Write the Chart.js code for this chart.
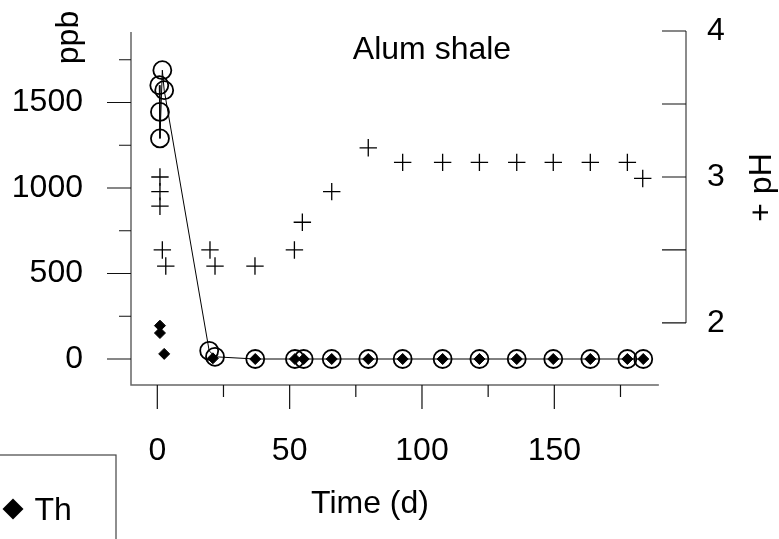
<!DOCTYPE html>
<html lang="en">
<head>
  <meta charset="UTF-8" />
  <title>Alum shale</title>
  <script src="https://cdn.jsdelivr.net/npm/chart.js"></script>
  <style>
    body {
      margin: 0;
      background: #fff;
    }

    .wrap {
      width: 779px;
      height: 539px;
      position: relative;
    }
  </style>
</head>
<body>
  <div class="wrap"><canvas id="alumChart"></canvas></div>

  <script>
    // values (time in days)
    const circleDays = [0.75, 1.0, 1.0, 1.9, 2.6, 19.6, 21.8, 37, 52, 55.3, 65.9, 79.7, 92.7, 107.8, 121.7, 135.8, 149.6, 163.6, 177.6, 183.6];
    const circlePpb = [1601, 1445, 1290, 1689, 1572, 48, 13, 0, 0, 0, 0, 0, 0, 0, 0, 0, 0, 0, 0, 0];

    const thDays = [1.0, 1.0, 2.6, 21.0, 37, 52, 55.3, 65.9, 79.7, 92.7, 107.8, 121.7, 135.8, 149.6, 163.6, 177.6, 183.6];
    const thPpb = [195, 152, 30, 4, 0, 0, 0, 0, 0, 0, 0, 0, 0, 0, 0, 0, 0];

    const phDays = [1.0, 1.0, 1.0, 1.9, 3.2, 19.9, 21.8, 36.9, 51.8, 54.8, 65.9, 79.7, 92.7, 107.8, 121.7, 135.8, 149.6, 163.6, 177.6, 183.4];
    const phValues = [3.0, 2.9, 2.8, 2.5, 2.39, 2.5, 2.39, 2.39, 2.5, 2.69, 2.9, 3.2, 3.1, 3.1, 3.1, 3.1, 3.1, 3.1, 3.1, 2.99];

    const xMajorTicks = [0, 50, 100, 150];
    const xMinorTicks = [25, 75, 125, 175];
    const ppbMajorTicks = [0, 500, 1000, 1500];
    const ppbMinorTicks = [250, 750, 1250, 1750];
    const phLabelTicks = [2, 3, 4];
    const phTickMarks = [2, 2.5, 3, 3.5, 4];

    const FONT = 'Liberation Sans, Arial, sans-serif';
    const X_AXIS_END = 189.5;

    const toPoints = (xs, ys) => xs.map((x, i) => ({ x: x, y: ys[i] }));
    const useTicks = values => scale => {
      scale.ticks = values.map(v => ({ value: v }));
    };
    // fixed box sizes, no extra label padding, so the plot sits where the figure has it
    const fixSize = (w, h) => scale => {
      if (w) scale.width = w;
      if (h) scale.height = h;
      scale.paddingTop = 0;
      scale.paddingBottom = 0;
      scale.paddingLeft = 0;
      scale.paddingRight = 0;
    };

    // axis lines, tick marks, titles and legend drawn the old-style way
    const framePlugin = {
      id: 'frame',
      afterDraw(chart) {
        const ctx = chart.ctx;
        const area = chart.chartArea;
        const xs = chart.scales.x;
        const ys = chart.scales.y;
        const ph = chart.scales.y2;
        ctx.save();

        ctx.strokeStyle = '#666';
        ctx.lineWidth = 1.5;
        ctx.beginPath();
        ctx.moveTo(area.left, area.top + 1);
        ctx.lineTo(area.left, area.bottom);
        ctx.lineTo(xs.getPixelForValue(X_AXIS_END), area.bottom);
        ctx.moveTo(area.right, ph.getPixelForValue(4));
        ctx.lineTo(area.right, ph.getPixelForValue(2));
        ctx.stroke();

        ctx.strokeStyle = '#111';
        ctx.lineWidth = 1.2;
        ctx.beginPath();
        const seg = (x0, y0, x1, y1) => { ctx.moveTo(x0, y0); ctx.lineTo(x1, y1); };
        xMajorTicks.forEach(v => { const p = xs.getPixelForValue(v); seg(p, area.bottom, p, area.bottom + 24); });
        xMinorTicks.forEach(v => { const p = xs.getPixelForValue(v); seg(p, area.bottom, p, area.bottom + 12); });
        ppbMajorTicks.forEach(v => { const p = ys.getPixelForValue(v); seg(area.left - 24, p, area.left, p); });
        ppbMinorTicks.forEach(v => { const p = ys.getPixelForValue(v); seg(area.left - 12, p, area.left, p); });
        phTickMarks.forEach(v => { const p = ph.getPixelForValue(v); seg(area.right - 24, p, area.right, p); });
        ctx.stroke();

        ctx.fillStyle = '#000';
        ctx.font = '32px ' + FONT;
        ctx.textAlign = 'center';
        ctx.textBaseline = 'alphabetic';
        ctx.fillText('Alum shale', 432, 59);
        ctx.fillText('Time (d)', 370, 513);

        ctx.save();
        ctx.translate(78, 37.5);
        ctx.rotate(-Math.PI / 2);
        ctx.fillText('ppb', 0, 0);
        ctx.restore();

        ctx.save();
        ctx.translate(771, 187.5);
        ctx.rotate(-Math.PI / 2);
        ctx.fillText('+ pH', 0, 0);
        ctx.restore();

        // legend box (cut off at the page edge)
        ctx.strokeStyle = '#444';
        ctx.lineWidth = 1.2;
        ctx.strokeRect(-10, 455, 126, 120);
        ctx.beginPath();
        ctx.moveTo(13, 498.5);
        ctx.lineTo(23.5, 509);
        ctx.lineTo(13, 519.5);
        ctx.lineTo(2.5, 509);
        ctx.closePath();
        ctx.fill();
        ctx.textAlign = 'left';
        ctx.fillText('Th', 34.5, 520);

        ctx.restore();
      }
    };

    const tickFont = { family: FONT, size: 32 };
    const plainLabel = v => String(v);

    new Chart(document.getElementById('alumChart'), {
      type: 'scatter',
      data: {
        datasets: [
          {
            label: 'ppb',
            data: toPoints(circleDays, circlePpb),
            yAxisID: 'y',
            showLine: true,
            borderColor: '#000',
            borderWidth: 1,
            pointStyle: 'circle',
            pointRadius: 9,
            pointBorderWidth: 1.8,
            pointBorderColor: '#000',
            pointBackgroundColor: 'rgba(0,0,0,0)'
          },
          {
            label: 'Th',
            data: toPoints(thDays, thPpb),
            yAxisID: 'y',
            pointStyle: 'rectRot',
            pointRadius: 5.5,
            pointBorderWidth: 1,
            pointBorderColor: '#000',
            pointBackgroundColor: '#000'
          },
          {
            label: 'pH',
            data: toPoints(phDays, phValues),
            yAxisID: 'y2',
            pointStyle: 'cross',
            pointRadius: 8.7,
            pointBorderWidth: 1.3,
            pointBorderColor: '#000'
          }
        ]
      },
      plugins: [framePlugin],
      options: {
        responsive: true,
        maintainAspectRatio: false,
        animation: false,
        layout: { padding: { top: 31, left: 0, right: 0, bottom: 0 } },
        plugins: {
          legend: { display: false },
          tooltip: { enabled: false }
        },
        scales: {
          x: {
            type: 'linear',
            position: 'bottom',
            min: -9.94,
            max: 199.75,
            afterBuildTicks: useTicks(xMajorTicks),
            afterFit: fixSize(0, 154),
            grid: { display: false, drawTicks: false },
            border: { display: false },
            ticks: { font: tickFont, color: '#000', padding: 47, autoSkip: false, maxRotation: 0, callback: plainLabel }
          },
          y: {
            type: 'linear',
            position: 'left',
            min: -152,
            max: 1918,
            afterBuildTicks: useTicks(ppbMajorTicks),
            afterFit: fixSize(131, 0),
            grid: { display: false, drawTicks: false },
            border: { display: false },
            ticks: { font: tickFont, color: '#000', padding: 48, autoSkip: false, callback: plainLabel }
          },
          y2: {
            type: 'linear',
            position: 'right',
            min: 1.575,
            max: 4.0,
            afterBuildTicks: useTicks(phLabelTicks),
            afterFit: fixSize(93, 0),
            grid: { display: false, drawTicks: false },
            border: { display: false },
            ticks: { font: tickFont, color: '#000', padding: 21, autoSkip: false, callback: plainLabel }
          }
        }
      }
    });
  </script>
</body>
</html>
